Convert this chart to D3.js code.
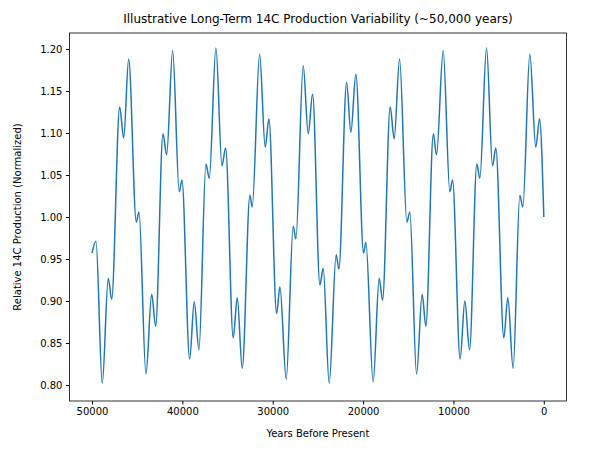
<!DOCTYPE html>
<html>
<head>
<meta charset="utf-8">
<script src="https://cdn.jsdelivr.net/npm/d3@7"></script>
<style>
  body { margin: 0; background: #fff; }
  text { font-family: "DejaVu Sans", sans-serif; fill: #000; }
</style>
</head>
<body>
<svg id="chart" width="597" height="455"></svg>
<script>
// years before present (turning points of the curve)
const years = [50000, 49558, 48862, 48198, 47822, 46936, 46494, 45940, 45100, 44801,
  44027, 43396, 42954, 42146, 41737, 41074, 40343, 40044, 39193, 38684,
  38164, 37389, 37024, 36283, 35619, 35210, 34370, 33927, 33374, 32522,
  32267, 31449, 30830, 30420, 29569, 29204, 28507, 27732, 27434, 26626,
  26073, 25587, 24778, 24414, 23750, 22976, 22677, 21825, 21350, 20797,
  19945, 19690, 18883, 18219, 17843, 17002, 16560, 15963, 15155, 14823,
  14082, 13462, 13053, 12224, 11870, 11139, 10398, 10100, 9259, 8739,
  8219, 7412, 7080, 6339, 5675, 5310, 4425, 3982, 3396, 2655,
  2323, 1549, 885, 476, 0];
const production = [0.957, 0.971, 0.802, 0.927, 0.902, 1.131, 1.094, 1.188, 0.994, 1.006,
  0.813, 0.908, 0.870, 1.099, 1.074, 1.198, 1.030, 1.044, 0.831, 0.899,
  0.842, 1.063, 1.046, 1.201, 1.061, 1.082, 0.856, 0.904, 0.820, 1.026,
  1.012, 1.194, 1.083, 1.117, 0.885, 0.917, 0.807, 0.989, 0.974, 1.180,
  1.099, 1.146, 0.919, 0.939, 0.802, 0.955, 0.938, 1.160, 1.101, 1.170,
  0.957, 0.970, 0.804, 0.927, 0.901, 1.131, 1.093, 1.188, 0.994, 1.006,
  0.813, 0.908, 0.870, 1.099, 1.074, 1.198, 1.030, 1.044, 0.831, 0.900,
  0.842, 1.063, 1.046, 1.201, 1.061, 1.082, 0.856, 0.904, 0.820, 1.026,
  1.012, 1.194, 1.083, 1.117, 1.000];
const xTicks = [50000, 40000, 30000, 20000, 10000, 0];
const yTicks = [0.80, 0.85, 0.90, 0.95, 1.00, 1.05, 1.10, 1.15, 1.20];

const data = years.map((yr, i) => ({ year: yr, value: production[i] }));

const svg = d3.select("#chart");
const plotLeft = 69.4, plotRight = 566.4, plotTop = 33, plotBottom = 401;

const x = d3.scaleLinear().domain([52500, -2500]).range([plotLeft, plotRight]);
const y = d3.scaleLinear().domain([0.781, 1.219]).range([plotBottom, plotTop]);

// axes
svg.append("g")
    .attr("transform", `translate(0,${plotBottom})`)
    .call(d3.axisBottom(x).tickValues(xTicks).tickFormat(d3.format("d")).tickSize(3.5).tickPadding(3.5))
    .call(g => g.selectAll("text").style("font-size", "10px"));

svg.append("g")
    .attr("transform", `translate(${plotLeft},0)`)
    .call(d3.axisLeft(y).tickValues(yTicks).tickFormat(d3.format(".2f")).tickSize(3.5).tickPadding(3.5))
    .call(g => g.selectAll("text").style("font-size", "10px"));

svg.selectAll(".domain").remove();
svg.append("rect")
    .attr("x", plotLeft).attr("y", plotTop)
    .attr("width", plotRight - plotLeft).attr("height", plotBottom - plotTop)
    .attr("fill", "none").attr("stroke", "#000").attr("stroke-width", 0.8);

// the curve
const line = d3.line()
    .x(d => x(d.year))
    .y(d => y(d.value))
    .curve(d3.curveMonotoneX);

svg.append("path")
    .datum(data)
    .attr("d", line)
    .attr("fill", "none")
    .attr("stroke", "#1f77b4")
    .attr("stroke-width", 1.5);

// labels
svg.append("text")
    .attr("x", (plotLeft + plotRight) / 2).attr("y", 23)
    .attr("text-anchor", "middle").style("font-size", "12px")
    .text("Illustrative Long-Term 14C Production Variability (~50,000 years)");

svg.append("text")
    .attr("x", (plotLeft + plotRight) / 2).attr("y", 437)
    .attr("text-anchor", "middle").style("font-size", "10px")
    .text("Years Before Present");

svg.append("text")
    .attr("transform", `translate(21,${(plotTop + plotBottom) / 2}) rotate(-90)`)
    .attr("text-anchor", "middle").style("font-size", "10px")
    .text("Relative 14C Production (Normalized)");
</script>
</body>
</html>
